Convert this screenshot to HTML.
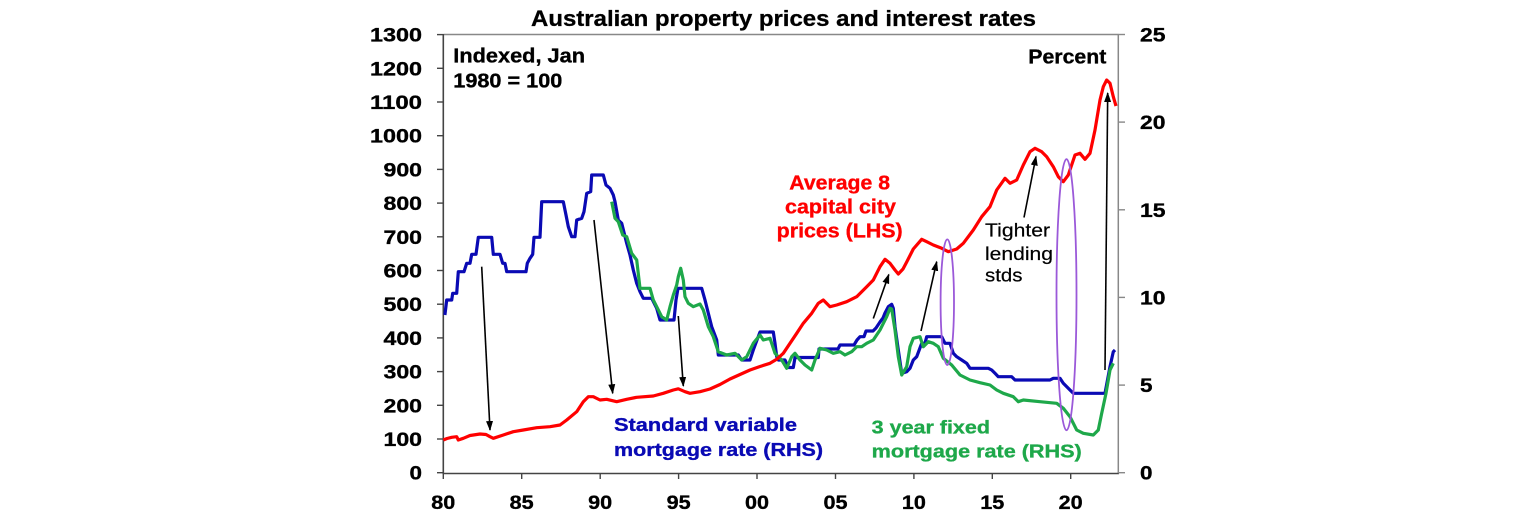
<!DOCTYPE html>
<html><head><meta charset="utf-8"><style>
html,body{margin:0;padding:0;background:#fff;}
svg{display:block;}
text{font-family:"Liberation Sans",Arial,sans-serif;}
</style></head><body>
<svg width="1536" height="521" viewBox="0 0 1536 521" xmlns="http://www.w3.org/2000/svg">
<defs>
<marker id="ah" markerUnits="userSpaceOnUse" markerWidth="10" markerHeight="10" refX="9" refY="5" orient="auto">
<path d="M0,1.5 L10,5 L0,8.5 Z" fill="#000"/>
</marker>
</defs>
<rect width="1536" height="521" fill="#fff"/>

<!-- title -->
<text x="531" y="26" font-size="22" font-weight="bold" stroke="#000" stroke-width="0.3" textLength="505" lengthAdjust="spacingAndGlyphs">Australian property prices and interest rates</text>

<!-- frame -->
<line x1="443.3" y1="34.5" x2="1118.3" y2="34.5" stroke="#888" stroke-width="1.5"/>
<line x1="1118.3" y1="34.5" x2="1118.3" y2="473.5" stroke="#888" stroke-width="1.5"/>
<line x1="443.3" y1="34" x2="443.3" y2="474" stroke="#444" stroke-width="1.6"/>
<line x1="442.5" y1="473.5" x2="1119" y2="473.5" stroke="#444" stroke-width="1.6"/>

<!-- left ticks -->
<g stroke="#444" stroke-width="1.4">
<line x1="437" y1="472.7" x2="443" y2="472.7"/>
<line x1="437" y1="439" x2="443" y2="439"/>
<line x1="437" y1="405.3" x2="443" y2="405.3"/>
<line x1="437" y1="371.6" x2="443" y2="371.6"/>
<line x1="437" y1="337.9" x2="443" y2="337.9"/>
<line x1="437" y1="304.2" x2="443" y2="304.2"/>
<line x1="437" y1="270.5" x2="443" y2="270.5"/>
<line x1="437" y1="236.8" x2="443" y2="236.8"/>
<line x1="437" y1="203.1" x2="443" y2="203.1"/>
<line x1="437" y1="169.4" x2="443" y2="169.4"/>
<line x1="437" y1="135.7" x2="443" y2="135.7"/>
<line x1="437" y1="102" x2="443" y2="102"/>
<line x1="437" y1="68.3" x2="443" y2="68.3"/>
<line x1="437" y1="34.6" x2="443" y2="34.6"/>
</g>
<!-- right ticks -->
<g stroke="#888" stroke-width="1.4">
<line x1="1118" y1="472.7" x2="1125" y2="472.7"/>
<line x1="1118" y1="385.1" x2="1125" y2="385.1"/>
<line x1="1118" y1="297.4" x2="1125" y2="297.4"/>
<line x1="1118" y1="209.8" x2="1125" y2="209.8"/>
<line x1="1118" y1="122.1" x2="1125" y2="122.1"/>
<line x1="1118" y1="34.5" x2="1125" y2="34.5"/>
</g>
<!-- x ticks -->
<g stroke="#444" stroke-width="1.4">
<line x1="443.3" y1="473" x2="443.3" y2="479"/>
<line x1="521.7" y1="473" x2="521.7" y2="479"/>
<line x1="600.2" y1="473" x2="600.2" y2="479"/>
<line x1="678.6" y1="473" x2="678.6" y2="479"/>
<line x1="757" y1="473" x2="757" y2="479"/>
<line x1="835.5" y1="473" x2="835.5" y2="479"/>
<line x1="913.9" y1="473" x2="913.9" y2="479"/>
<line x1="992.3" y1="473" x2="992.3" y2="479"/>
<line x1="1070.7" y1="473" x2="1070.7" y2="479"/>
</g>

<!-- left labels -->
<g font-size="19.5" font-weight="bold" text-anchor="end" fill="#000" stroke="#000" stroke-width="0.35">
<text x="422" y="479.7" textLength="12.5" lengthAdjust="spacingAndGlyphs">0</text>
<text x="422" y="446" textLength="38.5" lengthAdjust="spacingAndGlyphs">100</text>
<text x="422" y="412.3" textLength="38.5" lengthAdjust="spacingAndGlyphs">200</text>
<text x="422" y="378.6" textLength="38.5" lengthAdjust="spacingAndGlyphs">300</text>
<text x="422" y="344.9" textLength="38.5" lengthAdjust="spacingAndGlyphs">400</text>
<text x="422" y="311.2" textLength="38.5" lengthAdjust="spacingAndGlyphs">500</text>
<text x="422" y="277.5" textLength="38.5" lengthAdjust="spacingAndGlyphs">600</text>
<text x="422" y="243.8" textLength="38.5" lengthAdjust="spacingAndGlyphs">700</text>
<text x="422" y="210.1" textLength="38.5" lengthAdjust="spacingAndGlyphs">800</text>
<text x="422" y="176.4" textLength="38.5" lengthAdjust="spacingAndGlyphs">900</text>
<text x="422" y="142.7" textLength="52" lengthAdjust="spacingAndGlyphs">1000</text>
<text x="422" y="109" textLength="52" lengthAdjust="spacingAndGlyphs">1100</text>
<text x="422" y="75.3" textLength="52" lengthAdjust="spacingAndGlyphs">1200</text>
<text x="422" y="41.6" textLength="52" lengthAdjust="spacingAndGlyphs">1300</text>
</g>
<!-- right labels -->
<g font-size="19.5" font-weight="bold" fill="#000" stroke="#000" stroke-width="0.35">
<text x="1140" y="479.7" textLength="12.5" lengthAdjust="spacingAndGlyphs">0</text>
<text x="1140" y="392.1" textLength="12.5" lengthAdjust="spacingAndGlyphs">5</text>
<text x="1140" y="304.4" textLength="25.5" lengthAdjust="spacingAndGlyphs">10</text>
<text x="1140" y="216.8" textLength="25.5" lengthAdjust="spacingAndGlyphs">15</text>
<text x="1140" y="129.1" textLength="25.5" lengthAdjust="spacingAndGlyphs">20</text>
<text x="1140" y="41.5" textLength="25.5" lengthAdjust="spacingAndGlyphs">25</text>
</g>
<!-- x labels -->
<g font-size="19.5" font-weight="bold" text-anchor="middle" fill="#000" stroke="#000" stroke-width="0.35">
<text x="443.3" y="509" textLength="24" lengthAdjust="spacingAndGlyphs">80</text>
<text x="521.7" y="509" textLength="24" lengthAdjust="spacingAndGlyphs">85</text>
<text x="600.2" y="509" textLength="24" lengthAdjust="spacingAndGlyphs">90</text>
<text x="678.6" y="509" textLength="24" lengthAdjust="spacingAndGlyphs">95</text>
<text x="757" y="509" textLength="24" lengthAdjust="spacingAndGlyphs">00</text>
<text x="835.5" y="509" textLength="24" lengthAdjust="spacingAndGlyphs">05</text>
<text x="913.9" y="509" textLength="24" lengthAdjust="spacingAndGlyphs">10</text>
<text x="992.3" y="509" textLength="24" lengthAdjust="spacingAndGlyphs">15</text>
<text x="1070.7" y="509" textLength="24" lengthAdjust="spacingAndGlyphs">20</text>
</g>

<!-- series -->
<polyline fill="none" stroke="#0a0ab4" stroke-width="3.2" stroke-linejoin="round" points="444.9,315 446.7,300 451.7,300 452.7,293.3 456.7,293.3 458.3,271.7 464,271.7 466.7,263.3 470,263.3 471.7,254.3 476,254.3 478.3,237.3 491.7,237.3 493.3,254.3 500,254.3 502.7,263.3 505,263.3 506.7,271.7 526,271.7 527.3,263.3 530,258.3 532.7,254.3 534,237.3 540,237.3 541.7,201.7 563.3,201.7 566,215 568.3,226.7 571.7,236.7 575,236.7 576.7,220 581.7,218.3 584,211.7 586.7,193.3 590.7,191.7 591.7,175 603.3,175 606,185 610,188.3 613.3,195 615,201.7 618.3,220 621.7,223.3 626.7,243.3 630,255 633.3,270 636.7,283.3 640,291.7 643.3,298.3 651.7,298.3 656.7,308.3 660,320 674,320 676,300 678,288.3 701.7,288.3 705,300 708.3,313.3 711.7,326.7 716.7,340 718.3,355 738.3,355 741.7,360 750,360 753.3,350 757,340 760,332 773.3,332 775,343.3 776.7,356.7 778.3,360 785,360 788.3,367.5 793.3,367.5 795,357.5 818.3,357.5 819,349 838,349 840,345 854,345 857,340 860,336.7 864,336.7 866,331 873,331 876,328 880,322 883,318 885,313 888.3,306.7 891.7,304.3 893.3,308.3 895,326.7 898.3,350 901.7,373.3 906.7,371.7 910,368.3 913.3,360 916.7,356.7 921.7,343.3 925,343.3 926.7,336.7 941.7,336.7 945,343.3 950,343.3 953.3,353.3 956.7,356.7 961.7,360 966.7,363.3 970,368.3 988.3,368.3 991.7,370 995,373.3 998.3,376.7 1011.7,376.7 1015,380 1050,380 1053.3,378.3 1060,378.3 1063.3,383.3 1070,390 1073.3,393.3 1105,393.3 1110,366.7 1113.3,351.7 1115,350"/>

<polyline fill="none" stroke="#1ea84a" stroke-width="3.2" stroke-linejoin="round" points="611.7,201.7 615,218.3 618.3,221.7 622.7,235 626.7,236.7 631.7,253.3 636.7,260 640,288.3 650,288.3 653.3,300 656.7,306.7 661.7,316.7 666.7,320 670,306.7 673.3,295 676.7,285 678.3,276.7 680.7,268.3 683.3,280 685,296.7 688.3,303.3 693.3,306.7 700,304 703.3,310 708.3,326.7 713.3,336.7 718.3,351.7 726.7,355 735,353.3 741.7,360 746.7,356.7 753.3,343.3 760,335 763.3,340 770,338.3 775,353.3 778.3,356.7 781.7,360 786.7,368.3 791.7,356.7 795,353.3 800,360 805,365 811.7,370 815,360 820,348.3 826.7,350 833.3,353.3 840,351.7 845,355 851.7,351.7 856.7,346.7 861.7,346.7 866.7,343.3 873.3,340 880,330 886.7,316.7 890,308.3 891.7,309 895,330 898.3,356.7 901.7,375 906.7,366.7 910,346.7 913.3,338.3 920,336.7 923.3,346.7 928.3,341.7 933.3,343.3 938.3,346.7 943.3,358.3 951.7,365 960,375 970,380 980,382.7 990,385 996.7,390 1003.3,393.3 1013.3,396.7 1018.3,401.7 1023.3,400 1040,401.7 1056.7,403.3 1063.3,408.3 1070,416.7 1076.7,430 1083.3,433.3 1093.3,435 1098.3,430 1101.7,413.3 1106,393.3 1110,370 1113.3,363.3"/>

<polyline fill="none" stroke="#ff0000" stroke-width="3.2" stroke-linejoin="round" points="443.3,440 447,438.5 451.7,437.3 456.7,436.7 458.3,440 463.3,438.3 470,435.5 480,434 486,434.5 490,436.7 493.3,438.3 503.3,435 513.3,431.7 523.3,430 536.7,427.7 550,426.7 560,425 566.7,420 576.7,411.7 583.3,401.7 588.3,396.7 593.3,396.7 600,400 606.7,399.3 616.7,401.7 626.7,399.3 636.7,397.3 653.3,396 663.3,393.3 673.3,390 678.3,388.8 685,391.7 690,393.3 700,391.7 710,389 720,384.5 730,379 740,374.5 750,370 760,366.5 770,363.3 776.7,359.3 783.3,353.3 790,343.3 796.7,333.3 803.3,323.3 811.7,313.3 818.3,303.3 823.3,300 830,306.7 836.7,305 846.7,301.7 856.7,296.7 866.7,286.7 873.3,280 880,266.7 885,259.3 890,263.3 895,270 898.3,274 903,269 906.7,262 913.3,249 921.7,239.3 926.7,241.7 933.3,245 941.7,248.3 948.3,251.7 956.7,249 963.3,243.3 973.3,230 981.7,216.7 990,206.7 996.7,190 1005,178.3 1010,183.3 1016.7,180 1023.3,165 1030,151.7 1035,148.3 1041.7,151.7 1046.7,156.7 1053.3,166.7 1058.3,176.7 1063.3,181.7 1068.3,175 1075,155 1080,153.3 1085,159.3 1090,153.3 1095,130 1100,100 1103.3,86.7 1106.7,80 1110,83.3 1113.3,96.7 1116,106"/>

<!-- ellipses -->
<ellipse cx="947.3" cy="302.2" rx="6.7" ry="62.8" fill="none" stroke="#9b59d9" stroke-width="1.8"/>
<ellipse cx="1066.5" cy="294.7" rx="10" ry="135.5" fill="none" stroke="#9b59d9" stroke-width="1.8"/>

<!-- arrows -->
<g stroke="#000" stroke-width="1.6" marker-end="url(#ah)">
<line x1="481.7" y1="266.7" x2="490" y2="430"/>
<line x1="594" y1="220" x2="612.7" y2="393.3"/>
<line x1="678.3" y1="316" x2="683.3" y2="386"/>
<line x1="873.3" y1="318.5" x2="888.8" y2="274.5"/>
<line x1="921" y1="331" x2="936.7" y2="261.7"/>
<line x1="1024" y1="217.5" x2="1036" y2="156.5"/>
<line x1="1105" y1="370" x2="1107.7" y2="93"/>
</g>

<!-- annotations -->
<g font-weight="bold" fill="#000" stroke="#000" stroke-width="0.35">
<text x="453.3" y="62.7" font-size="20" textLength="131.7" lengthAdjust="spacingAndGlyphs">Indexed, Jan</text>
<text x="453.3" y="87.3" font-size="20" textLength="109" lengthAdjust="spacingAndGlyphs">1980 = 100</text>
<text x="1028.3" y="63.3" font-size="20" textLength="78" lengthAdjust="spacingAndGlyphs">Percent</text>
</g>
<g font-weight="bold" fill="#ff0000" stroke="#ff0000" stroke-width="0.35" font-size="20">
<text x="789.3" y="189.3" textLength="100.7" lengthAdjust="spacingAndGlyphs">Average 8</text>
<text x="785" y="213.3" textLength="111" lengthAdjust="spacingAndGlyphs">capital city</text>
<text x="776.7" y="237.3" textLength="126" lengthAdjust="spacingAndGlyphs">prices (LHS)</text>
</g>
<g fill="#000" font-size="18.5" stroke="#000" stroke-width="0.2">
<text x="985" y="236.7" textLength="65" lengthAdjust="spacingAndGlyphs">Tighter</text>
<text x="985" y="260" textLength="68" lengthAdjust="spacingAndGlyphs">lending</text>
<text x="985" y="281.7" textLength="37.5" lengthAdjust="spacingAndGlyphs">stds</text>
</g>
<g font-weight="bold" fill="#0a0ab4" stroke="#0a0ab4" stroke-width="0.35" font-size="18.5">
<text x="614" y="431" textLength="183" lengthAdjust="spacingAndGlyphs">Standard variable</text>
<text x="614" y="456" textLength="209" lengthAdjust="spacingAndGlyphs">mortgage rate (RHS)</text>
</g>
<g font-weight="bold" fill="#1ea84a" stroke="#1ea84a" stroke-width="0.35" font-size="18.5">
<text x="871.7" y="433.3" textLength="118.3" lengthAdjust="spacingAndGlyphs">3 year fixed</text>
<text x="871.7" y="457.3" textLength="210" lengthAdjust="spacingAndGlyphs">mortgage rate (RHS)</text>
</g>
</svg>
</body></html>
